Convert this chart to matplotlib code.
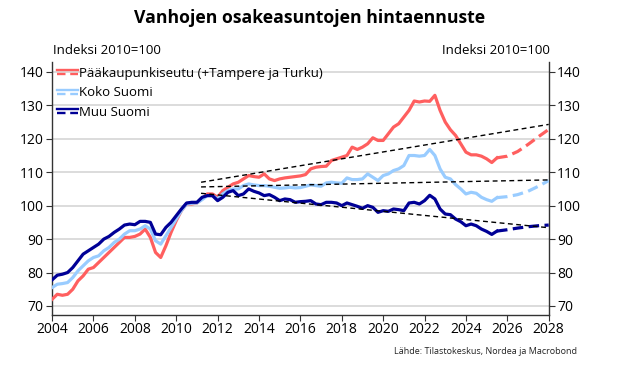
import numpy as np
import matplotlib
matplotlib.use('Agg')
import matplotlib.pyplot as plt
from matplotlib.lines import Line2D
from matplotlib.legend_handler import HandlerBase

plt.rcParams['font.family'] = ['Open Sans', 'DejaVu Sans']

# quarterly history, 2004Q1 .. 2025Q3
years = np.arange(2004, 2025.5 + 0.01, 0.25)

paakaupunkiseutu = [
    72, 73.5, 73.2, 73.5,
    75, 77.5, 79, 81,
    81.5, 83, 84.5, 86,
    87.5, 89, 90.5, 90.5,
    90.8, 91.5, 93, 90.5,
    86, 84.5, 88, 92,
    95.5, 98.5, 100.5, 100.5,
    100.8, 102, 103.5, 103.5,
    102.5, 104.5, 105.5, 106.5,
    107, 108, 109, 108.7,
    108.5, 109.5, 108, 107.5,
    108, 108.3, 108.5, 108.7,
    108.9, 109.3, 111, 111.5,
    111.7, 111.8, 113.5, 114,
    114.5, 115, 117.5, 116.8,
    117.5, 118.5, 120.3, 119.5,
    119.5, 121.5, 123.5, 124.5,
    126.5, 128.5, 131.3, 131,
    131.3, 131.2, 133, 128.5,
    125, 122.7, 121, 118.5,
    116, 115.2, 115.2, 114.8,
    114.0, 112.9, 114.3,
]
koko_suomi = [
    75.5, 76.5, 76.7, 77,
    78.5, 80.5, 82, 83.5,
    84.5, 85, 86.5, 87.5,
    89, 90, 91.5, 92.5,
    92.5, 93, 94, 93,
    89.5, 88.5, 91, 93.5,
    96, 98.5, 100.5, 100.7,
    100.8, 101.8, 103, 103,
    102, 103.5, 104.5, 105,
    105, 106, 106.5, 106.2,
    106, 106, 105.8, 105.5,
    105.2, 105.3, 105.5, 105.3,
    105.4, 105.8, 106.2, 106,
    105.8, 106.8, 107, 106.8,
    106.7, 108.3, 107.8, 107.8,
    108, 109.5, 108.5, 107.5,
    109, 109.5, 110.5, 111,
    112, 115, 115, 114.8,
    115, 116.8, 115, 111,
    108.5, 108, 106.3, 105,
    103.5, 104, 103.7, 102.5,
    101.8, 101.3, 102.4,
]
muu_suomi = [
    77.8, 79.2, 79.5, 80,
    81.5, 83.5, 85.5, 86.5,
    87.5, 88.5, 90, 90.8,
    92, 93, 94.2, 94.5,
    94.3, 95.3, 95.3, 95,
    91.5, 91.3, 93.5, 95,
    97, 99, 100.8, 101,
    101, 102.5, 103, 103,
    101.5, 102.5, 104, 104.5,
    103, 103.5, 105, 104.3,
    103.8, 103, 103.3, 102.5,
    101.5, 102, 101.8, 101,
    101.2, 101.3, 101.5, 100.5,
    100.3, 101, 101, 100.8,
    100, 100.8, 100.3, 99.8,
    99.2, 100, 99.5, 98,
    98.5, 98.3, 99, 98.8,
    98.5, 100.8, 101, 100.5,
    101.5, 103.1, 102, 99,
    97.5, 97.3, 96, 95.2,
    94, 94.5, 94, 93,
    92.3, 91.4, 92.4,
]

# forecast
fc_years = [2025.5, 2026, 2026.5, 2027, 2027.5, 2028]
paakaupunkiseutu_fc = [114.3, 114.8, 116.2, 118.3, 120.6, 122.8]
koko_suomi_fc = [102.4, 102.7, 103.3, 104.3, 105.8, 107.5]
muu_suomi_fc = [92.4, 92.8, 93.3, 93.7, 94.0, 94.2]

# long-run trend lines
trend_years = [2011.2, 2028]
trend_paak = [107.0, 124.3]
trend_koko = [105.6, 107.7]
trend_muu = [103.7, 93.4]

labels = ['Pääkaupunkiseutu (+Tampere ja Turku)', 'Koko Suomi', 'Muu Suomi']
colors = ['#FF5F5F', '#99CCFF', '#000096']


class SolidDashHandler(HandlerBase):
    def create_artists(self, legend, orig_handle, xdescent, ydescent,
                       width, height, fontsize, trans):
        c = orig_handle.get_color()
        y = height / 2 - ydescent
        x = [-xdescent, width - xdescent]
        top = Line2D(x, [y + 1.4, y + 1.4], color=c, lw=1.7, transform=trans)
        bot = Line2D(x, [y - 1.4, y - 1.4], color=c, lw=1.7,
                     ls=(0, (3.6, 2.0)), transform=trans)
        return [top, bot]


fig = plt.figure(figsize=(6.2, 3.75), dpi=100)
ax = fig.add_axes([0.084, 0.16, 0.801, 0.675])

hist = [paakaupunkiseutu, koko_suomi, muu_suomi]
fc = [paakaupunkiseutu_fc, koko_suomi_fc, muu_suomi_fc]
handles = []
for h, f, c in zip(hist, fc, colors):
    ln, = ax.plot(years, h, color=c, lw=2.3, solid_joinstyle='round', zorder=3)
    ax.plot(fc_years, f, color=c, lw=2.3, ls=(0, (3.3, 1.7)), zorder=3)
    handles.append(ln)

for t in [trend_paak, trend_koko, trend_muu]:
    ax.plot(trend_years, t, color='black', lw=1.0, ls=(0, (3.5, 2.5)), zorder=4)

ax.set_xlim(2004, 2028)
ax.set_ylim(67.3, 143)
ax.set_xticks(range(2004, 2029, 2))
ax.set_yticks(range(70, 141, 10))
ax.grid(axis='y', color='#D9D9D9', lw=1.3)
ax.set_axisbelow(True)
ax.spines['top'].set_visible(False)
for s in ['left', 'right', 'bottom']:
    ax.spines[s].set_color('#333333')
    ax.spines[s].set_linewidth(1.0)
ax.tick_params(axis='y', which='both', left=True, right=True,
               labelleft=True, labelright=True, labelsize=10,
               length=4, color='#333333', pad=2)
ax.tick_params(axis='x', labelsize=10, length=4, color='#333333', pad=1)

leg = ax.legend(handles, labels, loc='upper left', bbox_to_anchor=(-0.006, 1.012),
                frameon=False, fontsize=9.5, handlelength=1.6, handletextpad=0.05,
                labelspacing=0.5, borderaxespad=0.2,
                handler_map={Line2D: SolidDashHandler()})

fig.text(0.5, 0.952, 'Vanhojen osakeasuntojen hintaennuste', ha='center',
         va='center', fontsize=12.7, fontweight='bold')
fig.text(0.086, 0.865, 'Indeksi 2010=100', ha='left', va='center', fontsize=9.5)
fig.text(0.887, 0.865, 'Indeksi 2010=100', ha='right', va='center', fontsize=9.5)
fig.text(0.93, 0.063, 'Lähde: Tilastokeskus, Nordea ja Macrobond', ha='right',
         va='center', fontsize=6.5, color='#222222')

fig.savefig('out.png', dpi=100)
